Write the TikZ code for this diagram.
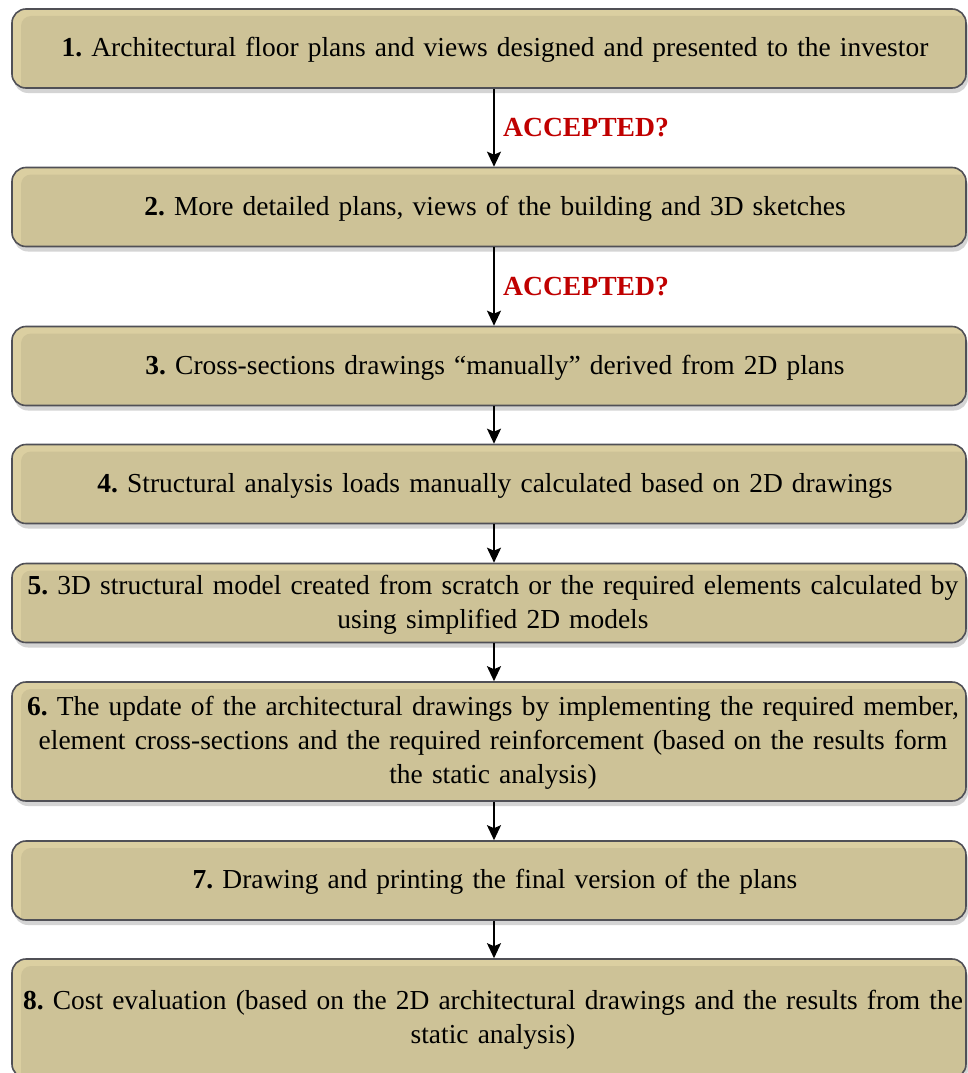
\documentclass[tikz,border=0pt]{standalone}
\usepackage{fontspec}
\setmainfont{Liberation Serif}
\frenchspacing
\usetikzlibrary{shadows,arrows.meta}
\definecolor{tanlight}{RGB}{219,207,161}
\definecolor{tandark}{RGB}{205,194,151}
\definecolor{bordergray}{RGB}{80,80,86}
\definecolor{shadowgray}{RGB}{212,212,212}
\definecolor{accred}{RGB}{192,0,0}
\tikzset{
 stepbox/.style={rounded corners=14pt, draw=bordergray, line width=1.6pt, fill=tanlight,
  minimum width=954pt, inner sep=0pt,
  drop shadow={shadow xshift=2pt, shadow yshift=-5pt, fill=shadowgray, opacity=1},
  path picture={\fill[tandark, rounded corners=10pt] ([xshift=9pt,yshift=-7pt]path picture bounding box.north west) rectangle ([xshift=20pt,yshift=-20pt]path picture bounding box.south east);}},
 short/.style={minimum height=79pt},
 tall/.style={minimum height=119pt},
 steptext/.style={text width=980pt, align=center, inner sep=0pt, font=\fontsize{27.45}{34}\selectfont},
 flow/.style={line width=1.8pt, -{Stealth[length=15pt,width=14pt,inset=3pt]}},
 acc/.style={anchor=west, text=accred, font=\bfseries\fontsize{27.6}{34}\selectfont, inner sep=0pt}
}
\begin{document}
\begin{tikzpicture}[x=1pt,y=-1pt]
\fill[white] (0,0) rectangle (968,1073);
\useasboundingbox (0,0) rectangle (968,1073);
\coordinate (ax) at (494,0);
\node[stepbox,short] (b1) at (489,48.5) {};
\node[stepbox,short] (b2) at (489,207) {};
\node[stepbox,short] (b3) at (489,366) {};
\node[stepbox,short] (b4) at (489,484) {};
\node[stepbox,short] (b5) at (489,603) {};
\node[stepbox,tall] (b6) at (489,741.5) {};
\node[stepbox,short] (b7) at (489,880.5) {};
\node[stepbox,tall] (b8) at (489,1018.5) {};
\node[steptext] (t1) at ([xshift=6pt,yshift=-1.5pt]b1.center) {\textbf{1.} Architectural floor plans and views designed and presented to the investor};
\node[steptext] (t2) at ([xshift=6pt,yshift=-1.5pt]b2.center) {\textbf{2.} More detailed plans, views of the building and 3D sketches};
\node[steptext] (t3) at ([xshift=6pt,yshift=-1.5pt]b3.center) {\textbf{3.} Cross-sections drawings “manually” derived from 2D plans};
\node[steptext] (t4) at ([xshift=6pt,yshift=-1.5pt]b4.center) {\textbf{4.} Structural analysis loads manually calculated based on 2D drawings};
\node[steptext] (t5) at ([xshift=4pt,yshift=-1.5pt]b5.center) {\textbf{5.} 3D structural model created from scratch or the required elements calculated by\\ using simplified 2D models};
\node[steptext] (t6) at ([xshift=4pt,yshift=-1.5pt]b6.center) {\textbf{6.} The update of the architectural drawings by implementing the required member,\\ element cross-sections and the required reinforcement (based on the results form\\ the static analysis)};
\node[steptext] (t7) at ([xshift=6pt,yshift=-1.5pt]b7.center) {\textbf{7.} Drawing and printing the final version of the plans};
\node[steptext] (t8) at ([xshift=4pt,yshift=-1.5pt]b8.center) {\textbf{8.} Cost evaluation (based on the 2D architectural drawings and the results from the\\ static analysis)};
\draw[flow] (b1.south -| ax) -- (b2.north -| ax);
\draw[flow] (b2.south -| ax) -- (b3.north -| ax);
\draw[flow] (b3.south -| ax) -- (b4.north -| ax);
\draw[flow] (b4.south -| ax) -- (b5.north -| ax);
\draw[flow] (b5.south -| ax) -- (b6.north -| ax);
\draw[flow] (b6.south -| ax) -- (b7.north -| ax);
\draw[flow] (b7.south -| ax) -- (b8.north -| ax);
\node[acc] (q1) at (503,128) {ACCEPTED?};
\node[acc] (q2) at (503,287) {ACCEPTED?};
\end{tikzpicture}
\end{document}
